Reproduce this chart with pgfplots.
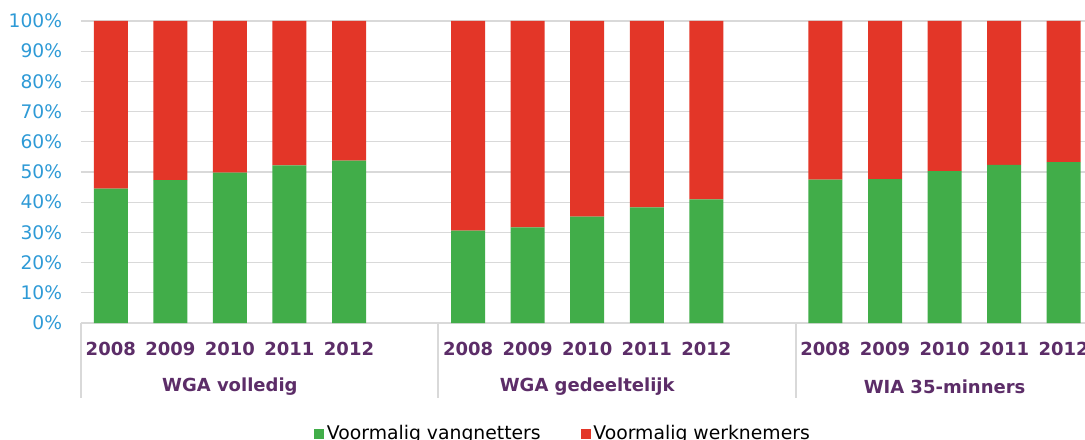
\documentclass[border=0pt]{standalone}
\usepackage{pgfplots}
\usepackage{pgfplotstable}
\pgfplotsset{compat=1.18}
\usepackage{fontspec}
\setmainfont{DejaVu Sans}
\definecolor{cgreen}{HTML}{41AD49}
\definecolor{cred}{HTML}{E33628}
\definecolor{tickblue}{HTML}{2E9AD6}
\definecolor{labpurple}{HTML}{5C2D68}
\definecolor{gridgray}{HTML}{D9D9D9}
\pgfplotstableread{
x green red
0 44.5 55.5
1 47.3 52.7
2 49.8 50.2
3 52.2 47.8
4 53.8 46.2
6 30.6 69.4
7 31.7 68.3
8 35.2 64.8
9 38.3 61.7
10 40.9 59.1
12 47.5 52.5
13 47.6 52.4
14 50.3 49.7
15 52.4 47.6
16 53.3 46.7
}\data
\begin{document}
\begin{tikzpicture}
\useasboundingbox (-60.75pt,-87pt) rectangle (753pt,242.25pt);
\clip (-60.75pt,-87pt) rectangle (753pt,242.25pt);
\begin{axis}[
  at={(0pt,0pt)}, anchor=south west,
  scale only axis, width=804pt, height=226.5pt,
  xmin=-0.5, xmax=17.5, ymin=0, ymax=100,
  ybar stacked, bar width=25.5pt,
  clip=false,
  axis x line=bottom, axis y line=left,
  x axis line style={gridgray, line width=1.5pt, -},
  y axis line style={draw=none},
  major tick length=0pt,
  ymajorgrids, grid style={gridgray, line width=0.9pt},
  ytick={0,10,...,100},
  yticklabels={0\%,10\%,20\%,30\%,40\%,50\%,60\%,70\%,80\%,90\%,100\%},
  yticklabel style={font=\fontsize{14}{16}\selectfont, text=tickblue, anchor=east, inner sep=0pt, xshift=-14pt},
  xtick={0,1,2,3,4,6,7,8,9,10,12,13,14,15,16},
  xticklabels={2008,2009,2010,2011,2012,2008,2009,2010,2011,2012,2008,2009,2010,2011,2012},
  xticklabel style={font=\bfseries\fontsize{13.5}{16}\selectfont, text=labpurple, anchor=center, inner sep=0pt, yshift=-19.7pt},
  legend columns=2,
  legend style={draw=none, at={(0.450,-0.366)}, anchor=center, font=\fontsize{14.1}{16}\selectfont, inner sep=0pt,
    /tikz/every even column/.append style={column sep=28pt}},
  legend image code/.code={\fill[#1] (0pt,-3.75pt) rectangle (7.5pt,3.75pt);},
]
\addplot[fill=cgreen, draw=none] table[x=x, y=green] {\data};
\addlegendentry{Voormalig vangnetters}
\addplot[fill=cred, draw=none] table[x=x, y=red] {\data};
\addlegendentry{Voormalig werknemers}
\draw[gridgray, line width=1.5pt] (axis cs:-0.5,0) -- ([yshift=-56pt]axis cs:-0.5,0);
\draw[gridgray, line width=1.5pt] (axis cs:5.5,0) -- ([yshift=-56pt]axis cs:5.5,0);
\draw[gridgray, line width=1.5pt] (axis cs:11.5,0) -- ([yshift=-56pt]axis cs:11.5,0);
\draw[gridgray, line width=1.5pt] (axis cs:17.5,0) -- ([yshift=-56pt]axis cs:17.5,0);
\node[font=\bfseries\fontsize{13.5}{16}\selectfont, text=labpurple] at ([yshift=-47.8pt]axis cs:2,0) {WGA volledig};
\node[font=\bfseries\fontsize{13.5}{16}\selectfont, text=labpurple] at ([yshift=-47.8pt]axis cs:8,0) {WGA gedeeltelijk};
\node[font=\bfseries\fontsize{13.5}{16}\selectfont, text=labpurple] at ([yshift=-47.8pt]axis cs:14,0) {WIA 35-minners};
\end{axis}
\end{tikzpicture}
\end{document}
